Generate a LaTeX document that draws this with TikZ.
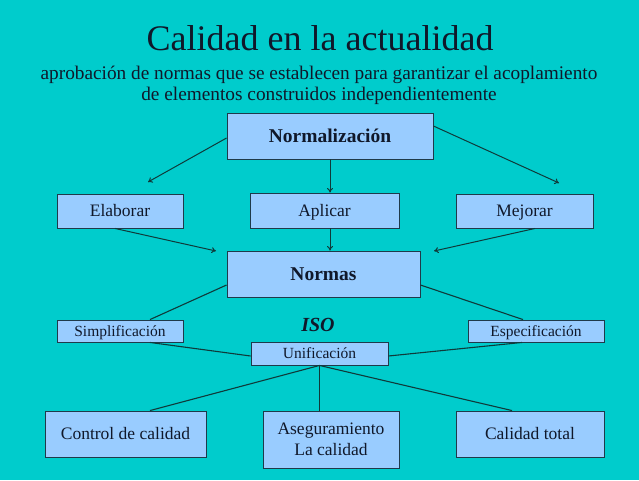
\documentclass[tikz,border=0pt]{standalone}
\usepackage{fontspec}
\setmainfont{Liberation Serif}
\usetikzlibrary{arrows.meta}
\definecolor{fondo}{HTML}{00CCCC}
\definecolor{caja}{HTML}{99CCFF}
\definecolor{borde}{HTML}{1F3A4A}
\definecolor{linea}{HTML}{0F3A3A}
\definecolor{texto}{HTML}{10182A}
\tikzset{
  caja/.style={draw=borde, fill=caja, line width=0.9pt, inner sep=0pt, text=texto},
  grande/.style={caja, text height=13pt, text depth=0pt, font=\fontsize{19.5}{23}\selectfont\bfseries},
  media/.style={caja, text height=11.5pt, text depth=0pt, font=\fontsize{17.5}{21}\selectfont},
  chica/.style={caja, text height=10.2pt, text depth=0pt, font=\fontsize{15.5}{18}\selectfont},
}
\begin{document}
\begin{tikzpicture}[x=1pt, y=-1pt]
      \fill[fondo] (0,0) rectangle (639,480);
      \useasboundingbox (0,0) rectangle (639,480);
      \draw
        (320,50) node[anchor=base, text=texto, font=\fontsize{36}{40}\selectfont] (titulo){Calidad en la actualidad}
        (319,100) node[anchor=base, text=texto, align=center, font=\fontsize{19.3}{21}\selectfont] (sub){aprobación de normas que se establecen para garantizar el acoplamiento\\de elementos construidos independientemente}
        (330,136) node[grande, minimum width=206, minimum height=46] (norm){Normalización}
        (120,211) node[media, minimum width=126, minimum height=34] (elab){Elaborar}
        (324.5,210.5) node[media, minimum width=149, minimum height=35] (apl){Aplicar}
        (524.5,211) node[media, minimum width=137, minimum height=34] (mej){Mejorar}
        (323.5,274) node[grande, minimum width=193, minimum height=46] (normas){Normas}
        (120,331) node[chica, minimum width=126, minimum height=22] (simp){Simplificación}
        (536,331) node[chica, minimum width=136, minimum height=22] (esp){Especificación}
        (318,325) node[text=texto, font=\fontsize{20}{24}\selectfont\bfseries\itshape] (iso){ISO}
        (319.5,353.5) node[chica, minimum width=137, minimum height=23] (uni){Unificación}
        (125.5,434) node[media, minimum width=161, minimum height=46] (ctrl){Control de calidad}
        (331,439.5) node[caja, minimum width=136, minimum height=57, align=center, font=\fontsize{17.5}{21}\selectfont] (aseg){Aseguramiento\\La calidad}
        (530,434) node[media, minimum width=148, minimum height=46] (total){Calidad total};
      \coordinate (a1) at (148,182);
      \coordinate (a2) at (559,183);
      \coordinate (b1) at (216,251);
      \coordinate (b2) at (434,251);
      \begin{scope}[draw=linea, line width=1pt, -{To[length=4.5pt, width=6pt]}]
        \draw ([yshift=-2pt]norm.west) to (a1);
        \draw (norm.south) to (norm.south |- apl.north);
        \draw ([yshift=10pt]norm.east) to (a2);
        \draw ([xshift=-5pt]elab.south) to (b1);
        \draw (norm.south |- apl.south) to (norm.south |- normas.north);
        \draw ([xshift=10.5pt]mej.south) to (b2);
      \end{scope}
      \begin{scope}[draw=linea, line width=1.1pt]
        \draw ([yshift=-11pt]normas.west) to ([xshift=30pt]simp.north);
        \draw ([yshift=-11pt]normas.east) to ([xshift=-13pt]esp.north);
        \draw ([xshift=30pt]simp.south) to ([yshift=-2.5pt]uni.west);
        \draw ([xshift=-14pt]esp.south) to ([yshift=-2.5pt]uni.east);
        \draw (uni.south) to ([xshift=24.5pt]ctrl.north);
        \draw (uni.south) to (uni.south |- aseg.north);
        \draw (uni.south) to ([xshift=-18pt]total.north);
      \end{scope}
    \end{tikzpicture}
\end{document}
